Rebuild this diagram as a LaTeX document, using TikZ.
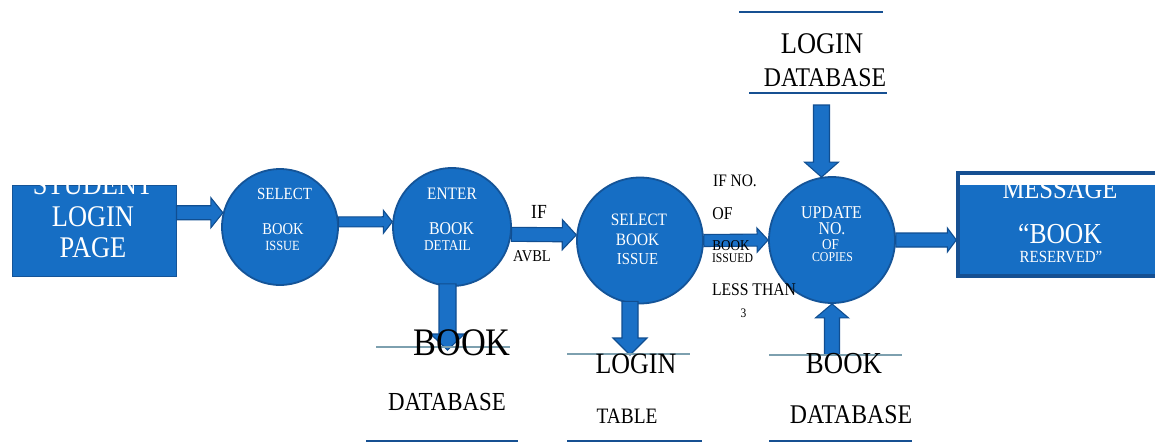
\documentclass[tikz,border=0pt]{standalone}
\usepackage{fontspec}
\setmainfont[FakeStretch=0.88]{Liberation Serif}
\usetikzlibrary{calc}
\definecolor{bfill}{RGB}{22,110,196}
\definecolor{bdraw}{RGB}{20,84,152}
\definecolor{afill}{RGB}{26,112,198}
\definecolor{adraw}{RGB}{16,78,145}
\definecolor{lineblue}{RGB}{22,80,146}
\definecolor{linegray}{RGB}{125,160,175}
\newcommand\fs[1]{\fontsize{#1pt}{#1pt}\selectfont}
\tikzset{
  proc/.style={circle, fill=bfill, draw=bdraw, line width=1.8pt, inner sep=0pt, minimum size=#1},
  boxa/.style={rectangle, fill=bfill, draw=bdraw, line width=1pt, inner sep=0pt},
  wt/.style={anchor=base, inner sep=0pt, text=white},
  bt/.style={anchor=base, inner sep=0pt, text=black},
  barrow/.style={fill=afill, draw=adraw, line width=1.1pt, line join=miter},
  storeline/.style={draw=linegray, line width=1.6pt},
  baseline/.style={draw=lineblue, line width=1.4pt},
  topline/.style={draw=lineblue, line width=2.6pt}
}
% block arrow: from #1 to #2, shaft half width #3, head half width #4, head length #5
\newcommand\blockarr[5]{%
  \coordinate (tmpC) at ($(#2)!#5!(#1)$);
  \draw[barrow] ($(#1)!#3!90:(#2)$) -- ($(tmpC)!#3!90:(#2)$) -- ($(tmpC)!#4!90:(#2)$) -- (#2)
     -- ($(tmpC)!#4!-90:(#2)$) -- ($(tmpC)!#3!-90:(#2)$) -- ($(#1)!#3!-90:(#2)$) -- cycle;
}
\begin{document}
\begin{tikzpicture}[x=1pt,y=-1pt]
\useasboundingbox (0,0) rectangle (1155,444);
\fill[white] (0,0) rectangle (1155,444);

% ---- boxes and processes
\node[boxa, minimum width=164pt, minimum height=91pt] (login) at (94,230.5) {};
\node[proc=116pt] (c1) at (280,227) {};
\node[proc=118pt] (c2) at (452,227) {};
\node[proc=126pt] (c3) at (640,240.5) {};
\node[proc=126pt] (c4) at (832,240) {};
\node[rectangle, draw=lineblue, line width=3.4pt, fill=white, minimum width=204pt, minimum height=103pt, inner sep=0pt] (msg) at (1060,224.5) {};
\fill[bfill] (959.7,185) rectangle (1160,274.3);

% ---- texts in shapes
\node[wt, font=\fs{30}] (t1a) at (93,194) {STUDENT};
\node[wt, font=\fs{30}] (t1b) at (93,226) {LOGIN};
\node[wt, font=\fs{30}] (t1c) at (93,257) {PAGE};

\node[wt, font=\fs{17}] (c1a) at (284.5,199) {SELECT};
\node[wt, font=\fs{16.5}] (c1b) at (283,234) {BOOK};
\node[wt, font=\fs{14}] (c1c) at (282.5,250) {ISSUE};

\node[wt, font=\fs{17.5}] (c2a) at (452,199) {ENTER};
\node[wt, font=\fs{18}] (c2b) at (451.5,234) {BOOK};
\node[wt, font=\fs{15}] (c2c) at (447.5,250) {DETAIL};

\node[wt, font=\fs{17.4}] (c3a) at (639,225) {SELECT};
\node[wt, font=\fs{17.4}] (c3b) at (637.5,245) {BOOK};
\node[wt, font=\fs{16.8}] (c3c) at (637.5,264) {ISSUE};

\node[wt, font=\fs{18}] (c4a) at (831.5,218) {UPDATE};
\node[wt, font=\fs{18}] (c4b) at (832,234) {NO.};
\node[wt, font=\fs{15}] (c4c) at (830.5,249) {OF};
\node[wt, font=\fs{13.5}] (c4d) at (832.5,261) {COPIES};

\node[wt, font=\fs{28}] (m1) at (1060,198) {MESSAGE};
\node[wt, font=\fs{29}] (m2) at (1060,243) {“BOOK};
\node[wt, font=\fs{17}] (m3) at (1061,262) {RESERVED”};

% ---- data stores
\coordinate (ldbA) at (739,12);  \coordinate (ldbB) at (883,12);
\coordinate (ldbC) at (749,93);  \coordinate (ldbD) at (887,93);
\draw[topline] (ldbA) -- (ldbB);
\draw[topline] (ldbC) -- (ldbD);
\node[bt, font=\fs{30}] (ldb1) at (822,53) {LOGIN};
\node[bt, font=\fs{27}] (ldb2) at (825,86) {DATABASE};

\coordinate (bdA) at (376,347); \coordinate (bdB) at (510,347);
\coordinate (bdC) at (366,441); \coordinate (bdD) at (518,441);
\coordinate (ltA) at (567,354); \coordinate (ltB) at (690,354);
\coordinate (ltC) at (567,441); \coordinate (ltD) at (702,441);
\coordinate (bd2A) at (769,355); \coordinate (bd2B) at (902,355);
\coordinate (bd2C) at (769,441); \coordinate (bd2D) at (912,441);
\draw[baseline] (bdC) -- (bdD);
\draw[baseline] (ltC) -- (ltD);
\draw[baseline] (bd2C) -- (bd2D);

% ---- arrows
\coordinate (a1s) at (login.east |- c1.166);
\blockarr{a1s}{c1.166}{7pt}{15pt}{12pt}
\blockarr{c1.5}{c2.175}{5pt}{11.5pt}{9pt}
\blockarr{c2.-7}{c3.175.5}{7pt}{15pt}{14pt}
\blockarr{c3.0}{c4.180}{6pt}{12pt}{11pt}
\coordinate (a5e) at (msg.west |- c4.0);
\blockarr{c4.0}{a5e}{7pt}{12pt}{9pt}

\coordinate (topS) at (821.5,105);
\coordinate (topE) at ($(topS |- c4.north)+(0,1)$);
\blockarr{topS}{topE}{8pt}{17pt}{15pt}
\coordinate (bdTip) at (447.5,350);
\coordinate (bdTail) at ($(bdTip |- c2.south)+(0,-3)$);
\blockarr{bdTail}{bdTip}{8.5pt}{17pt}{16pt}
\coordinate (ltTip) at (630,355);
\coordinate (ltTail) at ($(ltTip |- c3.south)+(0,-3)$);
\blockarr{ltTail}{ltTip}{8pt}{17pt}{17pt}
\coordinate (bd2S) at (832,355);
\blockarr{bd2S}{c4.270}{7.5pt}{16.5pt}{14pt}

\draw[storeline] (bdA) -- (bdB);
\draw[storeline] (ltA) -- (ltB);
\draw[storeline] (bd2A) -- (bd2B);

\node[bt, font=\fs{39}] (bd1) at (462,355) {BOOK};
\node[bt, font=\fs{26}] (bd2) at (447,410) {DATABASE};
\node[bt, font=\fs{29.5}] (lt1) at (636,373) {LOGIN};
\node[bt, font=\fs{22}] (lt2) at (627,423) {TABLE};
\node[bt, font=\fs{30.5}] (bb1) at (844,373) {BOOK};
\node[bt, font=\fs{27}] (bb2) at (851,423) {DATABASE};

% ---- flow labels
\node[bt, font=\fs{20}] (if1) at (539,218) {IF};
\node[bt, font=\fs{16.5}] (if2) at (532,261) {AVBL};
\node[bt, font=\fs{17.5}] (n1) at (735,186) {IF NO.};
\node[bt, font=\fs{18}] (n2) at (722.5,219) {OF};
\node[bt, font=\fs{15}] (n3) at (731,250) {BOOK};
\node[bt, font=\fs{13.3}] (n4) at (732.5,262) {ISSUED};
\node[bt, font=\fs{17.8}] (n5) at (754,295) {LESS THAN};
\node[bt, font=\fs{13}] (n6) at (743.5,317) {3};
\end{tikzpicture}
\end{document}
